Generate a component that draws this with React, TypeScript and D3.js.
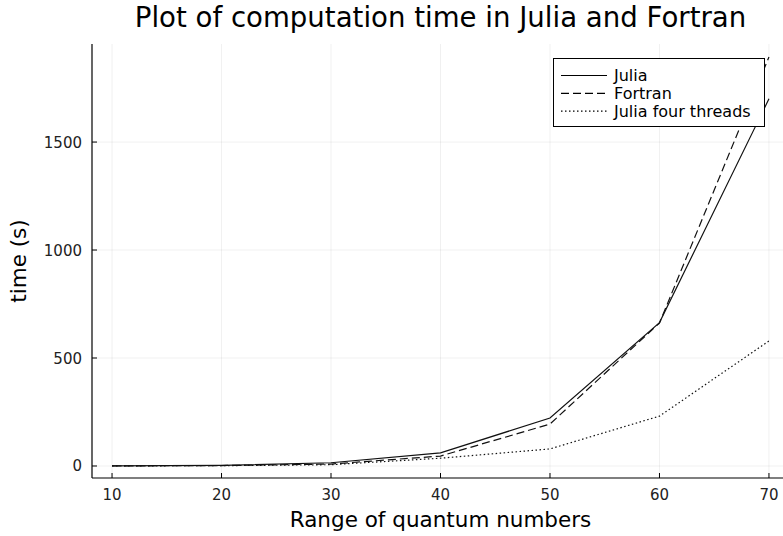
import React from "react";
import * as d3 from "d3";

// quantum number range (x) and run times in seconds
const quantumRange = [10, 20, 30, 40, 50, 60, 70];
const juliaTimes = [1, 3, 15, 61, 222, 664, 1700];
const fortranTimes = [0.5, 2, 9, 46, 194, 662, 1894];
const juliaThreadTimes = [0.5, 1.5, 6, 36, 79, 231, 579];

const xTicks = [10, 20, 30, 40, 50, 60, 70];
const yTicks = [0, 500, 1000, 1500];

const seriesNames = ["Julia", "Fortran", "Julia four threads"];
const seriesDash = ["none", "8,4", "1.5,2.5"];

const W = 783;
const H = 536;
const left = 92;
const right = 789; // figure is slightly wider than the window, so it gets cut
const top = 44;
const bottom = 478;
const font = "DejaVu Sans, sans-serif";

export default function App() {
  const x = d3.scaleLinear().domain([8.17, 71.83]).range([left, right]);
  const y = d3.scaleLinear().domain([-55.6, 1954]).range([bottom, top]);

  const allSeries = [juliaTimes, fortranTimes, juliaThreadTimes];
  const line = d3
    .line<number>()
    .x((_, i) => x(quantumRange[i]))
    .y((d) => y(d));

  return (
    <svg width={W} height={H} style={{ position: "absolute", left: 0, top: 0 }}>
      <rect width={W} height={H} fill="#fff" />
      {/* grid */}
      {xTicks.map((t) => (
        <line key={"gx" + t} x1={x(t)} x2={x(t)} y1={top} y2={bottom} stroke="#000" strokeOpacity={0.1} strokeWidth={0.6} />
      ))}
      {yTicks.map((t) => (
        <line key={"gy" + t} x1={left} x2={right} y1={y(t)} y2={y(t)} stroke="#000" strokeOpacity={0.1} strokeWidth={0.6} />
      ))}

      {/* series */}
      {allSeries.map((s, i) => (
        <path key={i} d={line(s) || ""} fill="none" stroke="#111" strokeWidth={1.2} strokeDasharray={seriesDash[i]} />
      ))}

      {/* axes */}
      <line x1={left} x2={right} y1={bottom} y2={bottom} stroke="#000" strokeWidth={1.2} />
      <line x1={left} x2={left} y1={top} y2={bottom} stroke="#000" strokeWidth={1.2} />
      {xTicks.map((t) => (
        <g key={"tx" + t}>
          <line x1={x(t)} x2={x(t)} y1={bottom} y2={bottom - 5} stroke="#000" strokeWidth={1} />
          <text x={x(t)} y={bottom + 21.5} textAnchor="middle" fontSize={15} fontFamily={font} fill="#222">
            {t}
          </text>
        </g>
      ))}
      {yTicks.map((t) => (
        <g key={"ty" + t}>
          <line x1={left} x2={left + 5} y1={y(t)} y2={y(t)} stroke="#000" strokeWidth={1} />
          <text x={left - 10} y={y(t) + 5.5} textAnchor="end" fontSize={15} fontFamily={font} fill="#222">
            {t}
          </text>
        </g>
      ))}

      {/* labels */}
      <text x={(left + right) / 2} y={27} textAnchor="middle" fontSize={27.6} fontFamily={font} fill="#000">
        Plot of computation time in Julia and Fortran
      </text>
      <text x={(left + right) / 2} y={527} textAnchor="middle" fontSize={21.5} fontFamily={font} fill="#000">
        Range of quantum numbers
      </text>
      <text transform={`translate(26,${(top + bottom) / 2}) rotate(-90)`} textAnchor="middle" fontSize={21.5} fontFamily={font} fill="#000">
        time (s)
      </text>

      {/* legend */}
      <g>
        <rect x={553.5} y={58.5} width={211} height={68} fill="#fff" stroke="#000" strokeWidth={1} />
        {seriesNames.map((n, i) => (
          <g key={n} transform={`translate(0,${75.5 + i * 17.8})`}>
            <line x1={561} x2={607} y1={0} y2={0} stroke="#000" strokeWidth={1.2} strokeDasharray={seriesDash[i]} />
            <text x={614} y={5.5} fontSize={16} fontFamily={font} fill="#000">
              {n}
            </text>
          </g>
        ))}
      </g>
    </svg>
  );
}
